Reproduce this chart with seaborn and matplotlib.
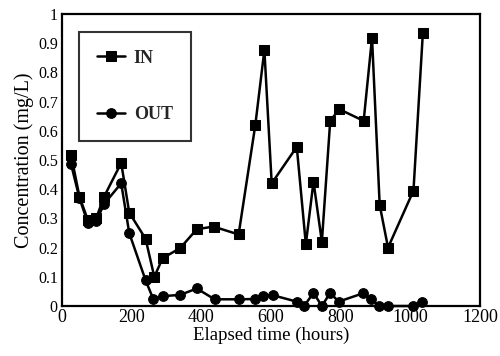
import matplotlib
matplotlib.use("Agg")
import matplotlib.pyplot as plt
import seaborn as sns
import pandas as pd

in_time = [26, 50, 74, 98, 121, 170, 193, 240, 265, 289, 339, 387, 435, 507, 555, 581, 602,
           674, 700, 722, 746, 770, 796, 866, 890, 912, 936, 1009, 1036]
in_conc = [0.517, 0.375, 0.295, 0.30, 0.375, 0.49, 0.32, 0.23, 0.10, 0.164, 0.198, 0.263, 0.272,
           0.245, 0.62, 0.877, 0.42, 0.545, 0.212, 0.426, 0.22, 0.634, 0.674, 0.634, 0.919,
           0.346, 0.20, 0.395, 0.936]

out_time = [26, 50, 74, 98, 121, 170, 193, 240, 262, 291, 339, 387, 438, 507, 555, 578, 605,
            674, 695, 722, 746, 770, 794, 863, 887, 911, 935, 1007, 1034]
out_conc = [0.486, 0.37, 0.285, 0.29, 0.35, 0.42, 0.25, 0.088, 0.024, 0.034, 0.038, 0.06, 0.023,
            0.023, 0.024, 0.034, 0.037, 0.015, 0.0, 0.045, 0.0, 0.045, 0.015, 0.043, 0.024,
            0.0, 0.0, 0.0, 0.015]

x_ticks = [0, 200, 400, 600, 800, 1000, 1200]
y_ticks = [0, 0.1, 0.2, 0.3, 0.4, 0.5, 0.6, 0.7, 0.8, 0.9, 1]
y_labels = ["0", "0.1", "0.2", "0.3", "0.4", "0.5", "0.6", "0.7", "0.8", "0.9", "1"]

df = pd.DataFrame({
    "time": in_time + out_time,
    "conc": in_conc + out_conc,
    "series": ["IN"] * len(in_time) + ["OUT"] * len(out_time),
})

sns.set_theme(style="white")
plt.rcParams["font.family"] = ["Liberation Serif", "DejaVu Serif"]

fig = plt.figure(figsize=(5, 3.56), dpi=100)
ax = fig.add_axes([0.124, 0.1404, 0.836, 0.8203])

sns.lineplot(data=df, x="time", y="conc", hue="series", style="series",
             markers={"IN": "s", "OUT": "o"}, dashes=False,
             palette={"IN": "black", "OUT": "black"}, markersize=7,
             linewidth=1.8, markeredgecolor="black", ax=ax, sort=False,
             clip_on=False)

ax.set_xlim(0, 1200)
ax.set_ylim(0, 1)
ax.set_xticks(x_ticks)
ax.set_yticks(y_ticks)
ax.set_yticklabels(y_labels)
ax.tick_params(direction="in", length=4, width=1.2, colors="black",
               top=False, right=False)
ax.tick_params(axis="x", labelsize=13, pad=2)
ax.tick_params(axis="y", labelsize=11.5, pad=3)
for s in ax.spines.values():
    s.set_color("black")
    s.set_linewidth(1.6)

ax.set_xlabel("Elapsed time (hours)", fontsize=13.5, color="black", labelpad=1)
ax.set_ylabel("Concentration (mg/L)", fontsize=14.5, color="black", labelpad=3)

leg = ax.legend(loc="upper left", bbox_to_anchor=(0.04, 0.94), borderaxespad=0,
                frameon=True, fancybox=False, edgecolor="black",
                labelspacing=2.2, handlelength=1.55, handletextpad=0.5,
                borderpad=1.0, prop={"weight": "bold", "size": 13})
leg.get_frame().set_linewidth(1.5)
leg.get_frame().set_facecolor("white")

fig.savefig("out.png", dpi=100)
